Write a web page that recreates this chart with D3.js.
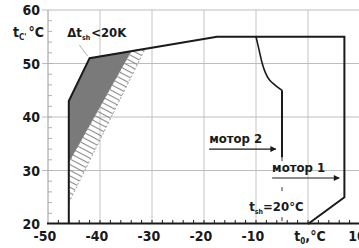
<!DOCTYPE html>
<html>
<head>
<meta charset="utf-8">
<script src="https://cdn.jsdelivr.net/npm/d3@7"></script>
<style>
  body { margin: 0; background: #fff; }
  svg { display: block; }
  text { font-family: "Liberation Sans Narrow", "DejaVu Sans Condensed", "Arial Narrow", sans-serif; font-weight: bold; fill: #1a1a1a; }
</style>
</head>
<body>
<svg id="chart" width="359" height="248"></svg>
<script>
// data
var xTicks = [-50, -40, -30, -20, -10, 0, 10]
var xTickLabels = ["-50", "-40", "-30", "-20", "-10", "t0,°C", "10"]
var yTicks = [20, 30, 40, 50, 60]
var envelope = [[-46, 20], [-46, 43], [-42, 51], [-17.5, 55], [7, 55], [7, 25], [0, 20]]
var motor2Curve = [[-10, 55], [-9.4, 52.5], [-8.8, 50], [-8.2, 48.3], [-7.4, 46.9], [-6.5, 46.1], [-5.6, 45.4], [-5, 45]]
var motor2Solid = [[-5, 45], [-5, 32.5]]
var motor2Dashed = [[-5, 32.5], [-5, 20]]
var darkZone = [[-46, 31.5], [-46, 43], [-42, 51], [-34, 52.3], [-46, 31.5]]
var hatchZone = [[-46, 31.5], [-34, 52.3], [-31.3, 52.8], [-46, 24], [-46, 31.5]]
var motor2Arrow = [[-19, 34], [-6.2, 34]]
var motor1Arrow = [[-6.9, 28.6], [6, 28.6]]

var svg = d3.select("#chart")
var x = d3.scaleLinear().domain([-50, 10]).range([48, 360])
var y = d3.scaleLinear().domain([20, 60]).range([224, 10])
var line = d3.line().x(function(d) { return x(d[0]) }).y(function(d) { return y(d[1]) })

var defs = svg.append("defs")
defs.append("pattern")
    .attr("id", "hatch")
    .attr("patternUnits", "userSpaceOnUse")
    .attr("width", 8).attr("height", 5)
    .attr("patternTransform", "rotate(28)")
  .append("line")
    .attr("x1", 0).attr("y1", 2.5).attr("x2", 8).attr("y2", 2.5)
    .attr("stroke", "#8a8a8a").attr("stroke-width", 1.1)
defs.append("marker")
    .attr("id", "arrow")
    .attr("viewBox", "0 0 10 10")
    .attr("refX", 9).attr("refY", 5)
    .attr("markerWidth", 8).attr("markerHeight", 6)
    .attr("markerUnits", "userSpaceOnUse")
    .attr("orient", "auto")
  .append("path").attr("d", "M0,0L10,5L0,10z").attr("fill", "#1a1a1a")

// grid
svg.append("g").selectAll("line")
    .data(xTicks.slice(1)).enter().append("line")
    .attr("x1", function(d) { return x(d) }).attr("x2", function(d) { return x(d) })
    .attr("y1", y(60)).attr("y2", y(20))
    .attr("stroke", "#c4c4c4").attr("stroke-width", 1)
svg.append("g").selectAll("line")
    .data(yTicks.slice(1)).enter().append("line")
    .attr("x1", x(-50) - 6).attr("x2", 359)
    .attr("y1", function(d) { return y(d) }).attr("y2", function(d) { return y(d) })
    .attr("stroke", "#bdbdbd").attr("stroke-width", 1)

// left axis with minor ticks
svg.append("line")
    .attr("x1", x(-50)).attr("x2", x(-50)).attr("y1", y(60)).attr("y2", y(20))
    .attr("stroke", "#a8a8a8").attr("stroke-width", 1.2)
svg.append("g").selectAll("line")
    .data(d3.range(22, 60, 2)).enter().append("line")
    .attr("x1", x(-50)).attr("x2", x(-50) + 4)
    .attr("y1", function(d) { return y(d) }).attr("y2", function(d) { return y(d) })
    .attr("stroke", "#b0b0b0").attr("stroke-width", 1)

// zones
svg.append("path").attr("d", line(hatchZone))
    .attr("fill", "url(#hatch)").attr("stroke", "#9a9a9a")
    .attr("stroke-width", 1).attr("stroke-dasharray", "2,2")
svg.append("path").attr("d", line(darkZone))
    .attr("fill", "#7a7a7a").attr("stroke", "none")

// bottom axis
svg.append("line")
    .attr("x1", x(-50) - 1).attr("x2", 359).attr("y1", y(20) - 0.5).attr("y2", y(20) - 0.5)
    .attr("stroke", "#1a1a1a").attr("stroke-width", 2)
svg.append("g").selectAll("line")
    .data(d3.range(-48, 11, 2)).enter().append("line")
    .attr("x1", function(d) { return x(d) }).attr("x2", function(d) { return x(d) })
    .attr("y1", y(20)).attr("y2", y(20) - 4)
    .attr("stroke", "#1a1a1a").attr("stroke-width", 1)

// envelope and motor 2 limit
svg.append("path").attr("d", line(envelope))
    .attr("fill", "none").attr("stroke", "#1a1a1a").attr("stroke-width", 2)
svg.append("path").attr("d", line.curve(d3.curveCatmullRom)(motor2Curve))
    .attr("fill", "none").attr("stroke", "#1a1a1a").attr("stroke-width", 1.6)
line.curve(d3.curveLinear)
svg.append("path").attr("d", line(motor2Solid))
    .attr("fill", "none").attr("stroke", "#1a1a1a").attr("stroke-width", 2)
svg.append("path").attr("d", line(motor2Dashed))
    .attr("fill", "none").attr("stroke", "#333").attr("stroke-width", 1)
    .attr("stroke-dasharray", "4,26")

// arrows
svg.append("path").attr("d", line(motor2Arrow))
    .attr("stroke", "#1a1a1a").attr("stroke-width", 1.2).attr("marker-end", "url(#arrow)")
svg.append("path").attr("d", line(motor1Arrow))
    .attr("stroke", "#1a1a1a").attr("stroke-width", 1.2).attr("marker-end", "url(#arrow)")

// tick labels
svg.append("g").selectAll("text")
    .data(yTicks).enter().append("text")
    .attr("x", 40).attr("y", function(d) { return y(d) + 5 })
    .attr("text-anchor", "end").attr("font-size", 14)
    .text(function(d) { return d })
var xl = svg.append("g").selectAll("text")
    .data(xTicks).enter().append("text")
    .attr("x", function(d) { return x(d) - 3 }).attr("y", 241)
    .attr("text-anchor", "middle").attr("font-size", 14)
xl.filter(function(d) { return d !== 0 }).text(function(d, i) { return xTickLabels[xTicks.indexOf(d)] })
var t0 = xl.filter(function(d) { return d === 0 }).attr("x", x(0) + 2)
t0.append("tspan").text("t")
t0.append("tspan").attr("font-size", 8).attr("dy", 3).text("0")
t0.append("tspan").attr("dy", -3).text(",°C")

// axis title
var yt = svg.append("text").attr("x", 13).attr("y", 37).attr("font-size", 14)
yt.append("tspan").text("t")
yt.append("tspan").attr("font-size", 8).attr("dy", 3).text("C'")
yt.append("tspan").attr("dy", -3).attr("dx", 2).text("°C")

// annotations
var dl = svg.append("text").attr("x", x(-46.3)).attr("y", y(55)).attr("font-size", 13)
dl.append("tspan").text("\u0394t")
dl.append("tspan").attr("font-size", 7).attr("dy", 3).text("sh")
dl.append("tspan").attr("dy", -3).attr("dx", 1).text("<20K")
svg.append("line")
    .attr("x1", x(-44)).attr("y1", y(53.5)).attr("x2", x(-42.4)).attr("y2", y(51.4))
    .attr("stroke", "#999").attr("stroke-width", 0.8)

svg.append("text").attr("x", x(-19)).attr("y", y(35.1)).attr("font-size", 13).text("мотор 2")
svg.append("text").attr("x", x(-6.9)).attr("y", y(29.7)).attr("font-size", 13).text("мотор 1")

var ts = svg.append("text").attr("x", x(-11.3)).attr("y", y(22.4)).attr("font-size", 13)
ts.append("tspan").text("t")
ts.append("tspan").attr("font-size", 7).attr("dy", 3).text("sh")
ts.append("tspan").attr("dy", -3).text("=20°C")
</script>
</body>
</html>
